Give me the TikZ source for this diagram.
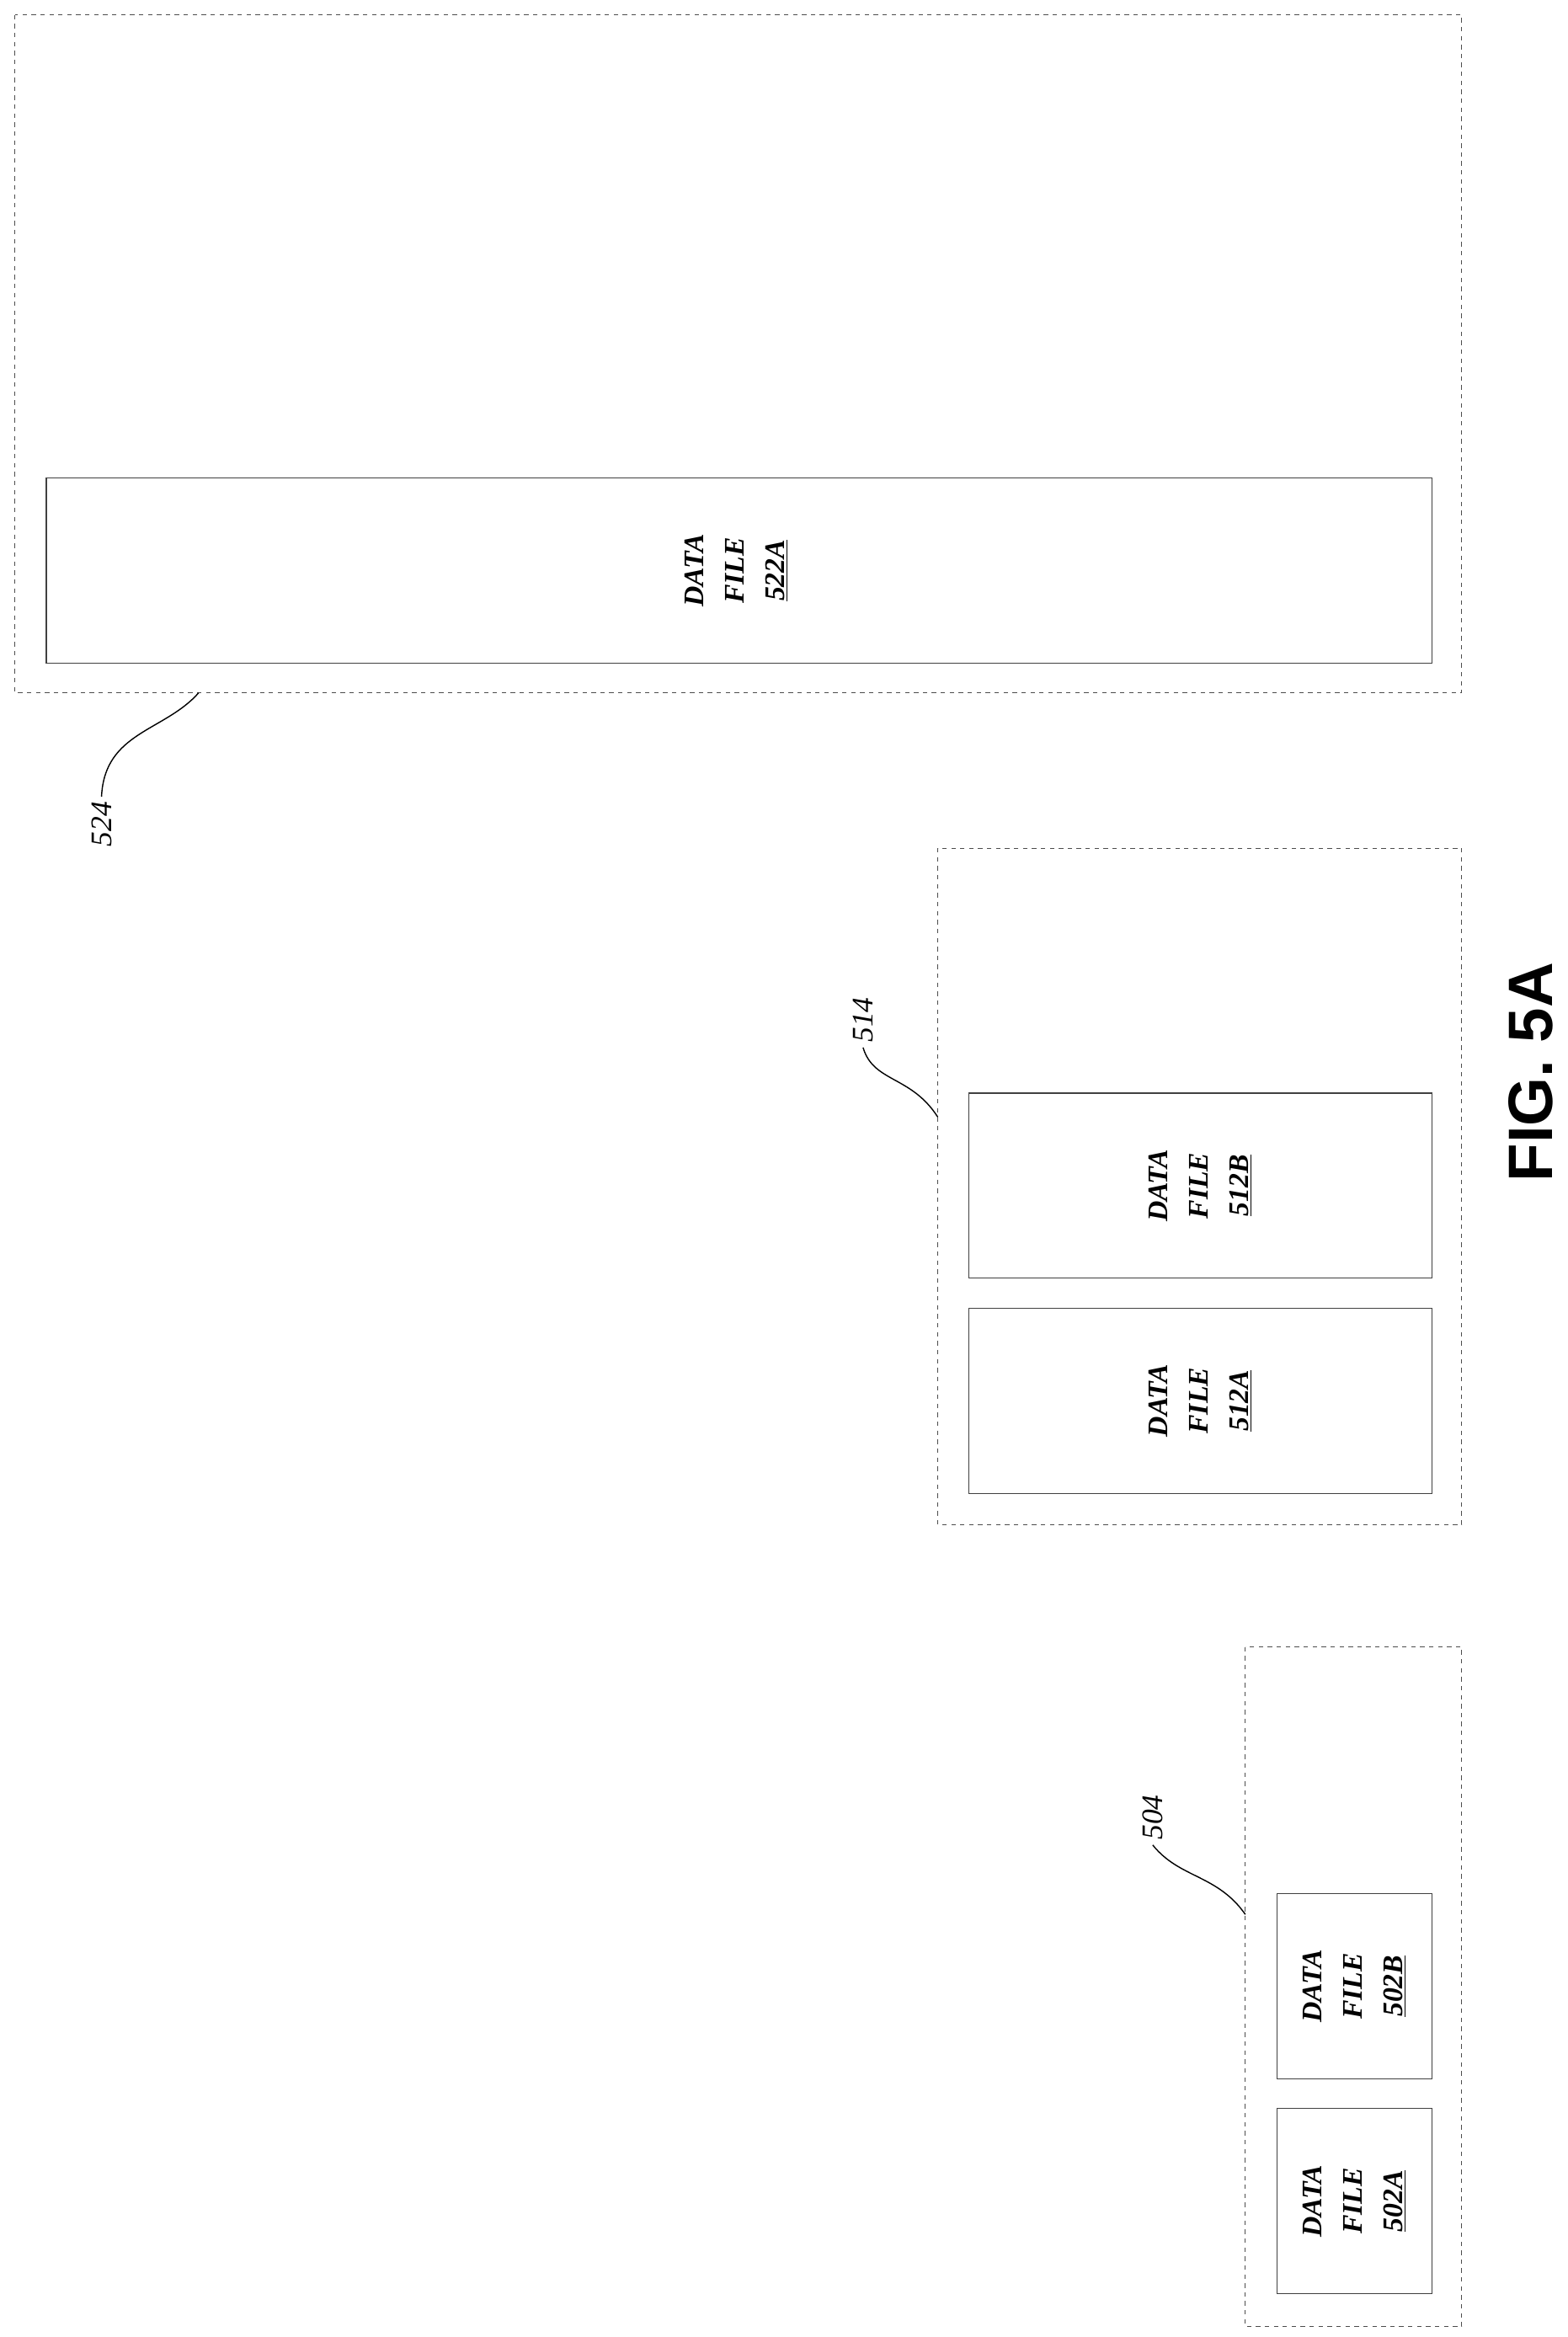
\documentclass[tikz,border=0pt]{standalone}
\usepackage{fontspec}
\setmainfont{Liberation Serif}
\newfontfamily\figfont{Liberation Sans}
\begin{document}
\begin{tikzpicture}[x=1pt,y=-1pt,
  outer/.style={draw=black!70,dashed,line width=0.6pt},
  inner/.style={draw=black!75,line width=0.6pt},
  lbl/.style={rotate=90,align=center,font=\fontsize{19}{27}\selectfont\bfseries\itshape},
  refl/.style={rotate=90,font=\fontsize{20}{22}\selectfont\itshape},
  lead/.style={line width=0.8pt}]
\useasboundingbox (0,0) rectangle (1050,1565);
% 524
\draw[outer] (10,10) rectangle (979,464);
\draw[inner] (31,320) rectangle (959,444);
\node[lbl] (f522a) at (493,382) {DATA\\FILE\\\underline{522A}};
\coordinate (c524) at (133,464);
\node[refl] (l524) at (68,552) {524};
\draw[lead] (c524) .. controls (110,490) and (70,490) .. (l524.east);
% 514
\draw[outer] (628,568) rectangle (979,1021);
\draw[inner] (649,732) rectangle (959,856);
\draw[inner] (649,876) rectangle (959,1000);
\node[lbl] (f512b) at (804,794) {DATA\\FILE\\\underline{512B}};
\node[lbl] (f512a) at (804,938) {DATA\\FILE\\\underline{512A}};
\coordinate (c514) at (628,748);
\node[refl] (l514) at (578,683) {514};
\draw[lead] (c514) .. controls (610,720) and (585,725) .. (l514.west);
% 504
\draw[outer] (834,1103) rectangle (979,1558);
\draw[inner] (855,1268) rectangle (959,1392);
\draw[inner] (855,1412) rectangle (959,1536);
\node[lbl] (f502b) at (907,1330) {DATA\\FILE\\\underline{502B}};
\node[lbl] (f502a) at (907,1474) {DATA\\FILE\\\underline{502A}};
\coordinate (c504) at (834,1282);
\node[refl] (l504) at (772,1217) {504};
\draw[lead] (c504) .. controls (815,1255) and (790,1258) .. (l504.west);
% caption
\node[rotate=90,font=\figfont\fontsize{42}{46}\selectfont\bfseries] (fig) at (1025,718) {FIG. 5A};
\end{tikzpicture}
\end{document}
